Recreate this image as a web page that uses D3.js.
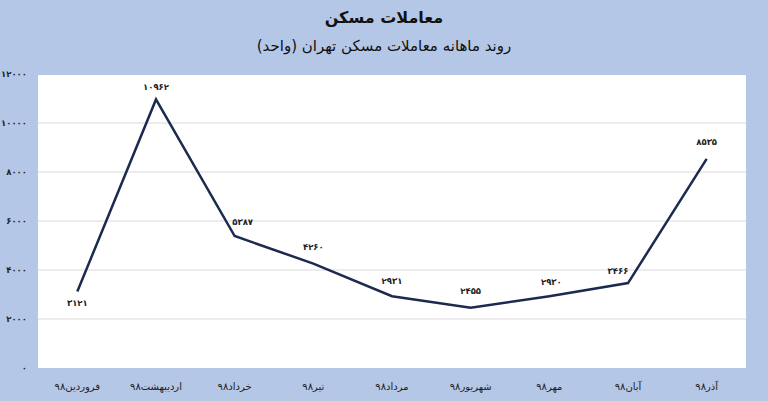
<!DOCTYPE html>
<html>
<head>
<meta charset="utf-8">
<script src="https://cdn.jsdelivr.net/npm/d3@7"></script>
<style>
  body { margin: 0; background: #b4c7e7; }
  svg { display: block; font-family: "DejaVu Sans", "Noto Sans", sans-serif; }
</style>
</head>
<body>
<div id="chart"></div>
<script>
const months = ["فروردین۹۸", "اردیبهشت۹۸", "خرداد۹۸", "تیر۹۸", "مرداد۹۸", "شهریور۹۸", "مهر۹۸", "آبان۹۸", "آذر۹۸"];
const deals = [3121, 10962, 5387, 4260, 2931, 2455, 2930, 3466, 8535];
const yTicks = [0, 2000, 4000, 6000, 8000, 10000, 12000];
const title = "معاملات مسکن";
const subtitle = "روند ماهانه معاملات مسکن تهران (واحد)";

// label placement per point: [dx, dy]
const labelOffset = [[0, 12], [0, -12], [8, -14], [0, -16], [0, -15], [0, -16], [2, -14], [-10, -12], [0, -16]];

const fa = n => String(n).replace(/\d/g, d => "۰۱۲۳۴۵۶۷۸۹"[d]);

const W = 768, H = 401;
const plot = { left: 38, right: 746, top: 74, bottom: 368 };

const svg = d3.select("#chart").append("svg")
    .attr("width", W)
    .attr("height", H);

svg.append("rect")
    .attr("width", W).attr("height", H)
    .attr("fill", "#b4c7e7");

svg.append("text")
    .attr("x", W / 2).attr("y", 18)
    .attr("text-anchor", "middle")
    .attr("dominant-baseline", "middle")
    .attr("font-size", 16)
    .attr("font-weight", "bold")
    .attr("fill", "#111")
    .text(title);

svg.append("text")
    .attr("x", W / 2).attr("y", 46)
    .attr("text-anchor", "middle")
    .attr("dominant-baseline", "middle")
    .attr("font-size", 15)
    .attr("fill", "#111")
    .text(subtitle);

const x = d3.scaleBand()
    .domain(months)
    .range([plot.left, plot.right]);
const y = d3.scaleLinear()
    .domain([0, 12000])
    .range([plot.bottom, plot.top]);

svg.append("rect")
    .attr("x", plot.left).attr("y", plot.top + 1)
    .attr("width", plot.right - plot.left)
    .attr("height", plot.bottom - plot.top - 1)
    .attr("fill", "#fff");

svg.append("g")
    .selectAll("line")
    .data(yTicks.filter(t => t > 0 && t < 12000))
    .join("line")
    .attr("x1", plot.left).attr("x2", plot.right)
    .attr("y1", d => y(d)).attr("y2", d => y(d))
    .attr("stroke", "#d9d9d9")
    .attr("stroke-width", 1);

const yAxis = svg.append("g")
    .attr("transform", `translate(27,0)`)
    .call(d3.axisLeft(y).tickValues(yTicks).tickSize(0).tickFormat(fa));
yAxis.select(".domain").remove();
yAxis.selectAll("text")
    .attr("x", 0)
    .attr("font-size", 8.5)
    .attr("font-weight", "bold")
    .attr("font-family", "DejaVu Sans")
    .attr("fill", "#222");

const xAxis = svg.append("g")
    .attr("transform", `translate(0,${plot.bottom})`)
    .call(d3.axisBottom(x).tickSize(0));
xAxis.select(".domain").remove();
xAxis.selectAll("text")
    .attr("y", 15)
    .attr("font-size", 10)
    .attr("font-family", "DejaVu Sans")
    .attr("fill", "#222");

const cx = d => x(d) + x.bandwidth() / 2;

svg.append("path")
    .datum(deals)
    .attr("fill", "none")
    .attr("stroke", "#1b2a4e")
    .attr("stroke-width", 2.5)
    .attr("stroke-linejoin", "miter")
    .attr("d", d3.line().x((d, i) => cx(months[i])).y(d => y(d)));

svg.append("g")
    .selectAll("text")
    .data(deals)
    .join("text")
    .attr("x", (d, i) => cx(months[i]) + labelOffset[i][0])
    .attr("y", (d, i) => y(d) + labelOffset[i][1])
    .attr("text-anchor", "middle")
    .attr("dominant-baseline", "middle")
    .attr("font-size", 8.5)
    .attr("font-weight", "bold")
    .attr("fill", "#222")
    .text(d => fa(d));
</script>
</body>
</html>
